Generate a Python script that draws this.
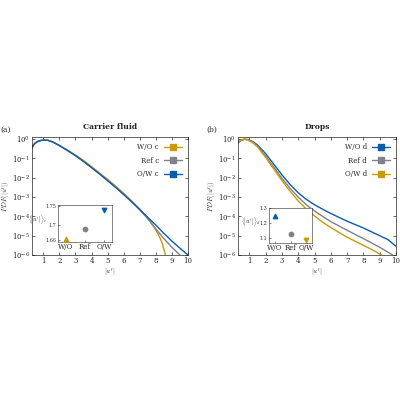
import numpy as np, pandas as pd, seaborn as sns, matplotlib
matplotlib.use("Agg")
import matplotlib.pyplot as plt
from matplotlib.lines import Line2D

sns.set_style("ticks")
plt.rcParams['font.family'] = ['DejaVu Serif']
plt.rcParams['mathtext.fontset'] = 'cm'
plt.rcParams['font.size'] = 5

GOLD, GREY, BLUE = "#c99a06", "#80808f", "#0b5cad"

# Carrier fluid (log10 PDF)
xc_ow = [0.3,0.4,0.5,0.7,0.9,1.1,1.3,1.6,2,2.5,3,3.5,4,4.5,5,5.5,6,6.5,7,7.5,8,8.5,9,9.5,10]
yc_ow = [-0.45,-0.3,-0.2,-0.1,-0.06,-0.05,-0.06,-0.15,-0.33,-0.58,-0.85,-1.15,-1.47,-1.8,-2.15,-2.5,-2.87,-3.25,-3.65,-4.05,-4.45,-4.88,-5.28,-5.65,-6.0]
xc_ref = [0.3,0.4,0.5,0.7,0.9,1.1,1.3,1.6,2,2.5,3,3.5,4,4.5,5,5.5,6,6.5,7,7.5,8,8.5,9,9.5]
yc_ref = [-0.45,-0.3,-0.2,-0.1,-0.06,-0.05,-0.06,-0.15,-0.33,-0.58,-0.85,-1.15,-1.47,-1.8,-2.13,-2.48,-2.85,-3.23,-3.65,-4.12,-4.65,-5.15,-5.6,-6.0]
xc_wo = [0.3,0.4,0.5,0.7,0.9,1.1,1.3,1.6,2,2.5,3,3.5,4,4.5,5,5.5,6,6.5,7,7.5,7.8,8.0,8.2,8.4,8.5,8.6]
yc_wo = [-0.42,-0.28,-0.18,-0.09,-0.05,-0.04,-0.06,-0.14,-0.32,-0.56,-0.82,-1.1,-1.42,-1.75,-2.08,-2.43,-2.8,-3.2,-3.62,-4.1,-4.45,-4.7,-5.0,-5.4,-5.7,-6.0]
# Drops
xd_wo = [0.3,0.4,0.5,0.7,0.9,1.2,1.5,2,2.5,3,3.5,4,4.5,5,5.5,6,7,8,9,9.5,10]
yd_wo = [-0.2,-0.12,-0.06,0.0,-0.02,-0.12,-0.3,-0.75,-1.3,-1.85,-2.35,-2.78,-3.12,-3.4,-3.63,-3.85,-4.25,-4.6,-5.0,-5.2,-5.55]
xd_ref = [0.3,0.4,0.5,0.7,0.9,1.2,1.5,2,2.5,3,3.5,4,4.5,5,5.5,6,7,8,9,9.5,9.8]
yd_ref = [-0.18,-0.1,-0.05,0.0,-0.03,-0.15,-0.36,-0.88,-1.45,-2.03,-2.55,-3.0,-3.4,-3.72,-4.0,-4.27,-4.72,-5.15,-5.6,-5.85,-6.0]
xd_ow = [0.3,0.4,0.5,0.7,0.9,1.2,1.5,2,2.5,3,3.5,4,4.5,5,5.5,6,7,8,8.7,9.1]
yd_ow = [-0.16,-0.09,-0.04,0.0,-0.04,-0.18,-0.4,-0.95,-1.55,-2.15,-2.7,-3.2,-3.62,-3.98,-4.3,-4.58,-5.08,-5.5,-5.8,-6.0]

ins_cat = ["W/O", "Ref", "O/W"]
ins_c = [1.663, 1.69, 1.74]
ins_d = [1.25, 1.13, 1.09]

fig = plt.figure(figsize=(4, 4), dpi=100)
axL = fig.add_axes([0.08, 0.3625, 0.39, 0.295])
axR = fig.add_axes([0.595, 0.3625, 0.395, 0.295])

def draw(ax, series, title, tag, ylab):
    rows = []
    for name, xs, ys, c in series:
        for x, y in zip(xs, ys):
            rows.append((name, x, 10**y))
    df = pd.DataFrame(rows, columns=["s", "x", "y"])
    sns.lineplot(data=df, x="x", y="y", hue="s", palette={n: c for n, _, _, c in series},
                 ax=ax, lw=1.0, legend=False)
    ax.set_yscale("log")
    ax.set_xlim(0.3, 10); ax.set_ylim(1e-6, 1.3)
    ax.set_xticks(range(1, 11))
    ax.set_xlabel(r"$|u'|$", labelpad=1)
    ax.set_ylabel(ylab, labelpad=0)
    ax.set_title(title, fontweight="bold", fontsize=5.5, pad=6)
    ax.text(-0.2, 1.04, tag, transform=ax.transAxes, fontsize=5.5)
    ax.tick_params(direction="in", length=2, width=0.5, which="major", top=True, right=True, pad=1.5)
    ax.tick_params(which="minor", left=False, right=False)
    for s in ax.spines.values(): s.set_linewidth(0.5)
    handles = [Line2D([], [], color=c, lw=1, marker="s", markersize=5, markerfacecolor=c,
                      markeredgecolor=c) for n, _, _, c in series]
    ax.legend(handles, [n for n, *_ in series], loc="upper right", frameon=False,
              markerfirst=False, handlelength=2.5, fontsize=5, labelspacing=0.8)

draw(axL, [("W/O c", xc_wo, yc_wo, GOLD), ("Ref c", xc_ref, yc_ref, GREY), ("O/W c", xc_ow, yc_ow, BLUE)],
     "Carrier fluid", "(a)", r"$PDF(|u'|)$")
draw(axR, [("W/O d", xd_wo, yd_wo, BLUE), ("Ref d", xd_ref, yd_ref, GREY), ("O/W d", xd_ow, yd_ow, GOLD)],
     "Drops", "(b)", r"$PDF(|u'|)$")

def inset(rect, vals, cols, marks, ylim, ticks, lab):
    a = fig.add_axes(rect)
    for i, (v, c, m) in enumerate(zip(vals, cols, marks)):
        a.scatter([ins_cat[i]], [v], color=c, marker=m, s=10, zorder=3)
    a.set_xlim(-0.4, 2.4); a.set_ylim(*ylim); a.set_yticks(ticks)
    a.set_yticklabels([str(t) for t in ticks], fontsize=3.5)
    a.tick_params(axis="x", labelsize=5, pad=1)
    a.tick_params(axis="y", pad=1)
    a.tick_params(direction="in", length=1.5, width=0.4)
    for s in a.spines.values(): s.set_linewidth(0.4)
    a.set_ylabel(lab, fontsize=4.5, rotation=0, ha="right", va="center", labelpad=1)
    a.yaxis.set_label_coords(-0.2, 0.6)
    a.set_facecolor("white")

inset([0.145, 0.395, 0.135, 0.0925], ins_c, [GOLD, GREY, BLUE], ["^", "o", "v"],
      (1.655, 1.752), [1.66, 1.7, 1.75], r"$\langle|u'|\rangle_c$")
inset([0.6725, 0.3925, 0.1075, 0.0875], ins_d, [BLUE, GREY, GOLD], ["^", "o", "v"],
      (1.07, 1.3), [1.1, 1.2, 1.3], r"$\langle|u'|\rangle_d$")

fig.savefig("out.png", dpi=100)
